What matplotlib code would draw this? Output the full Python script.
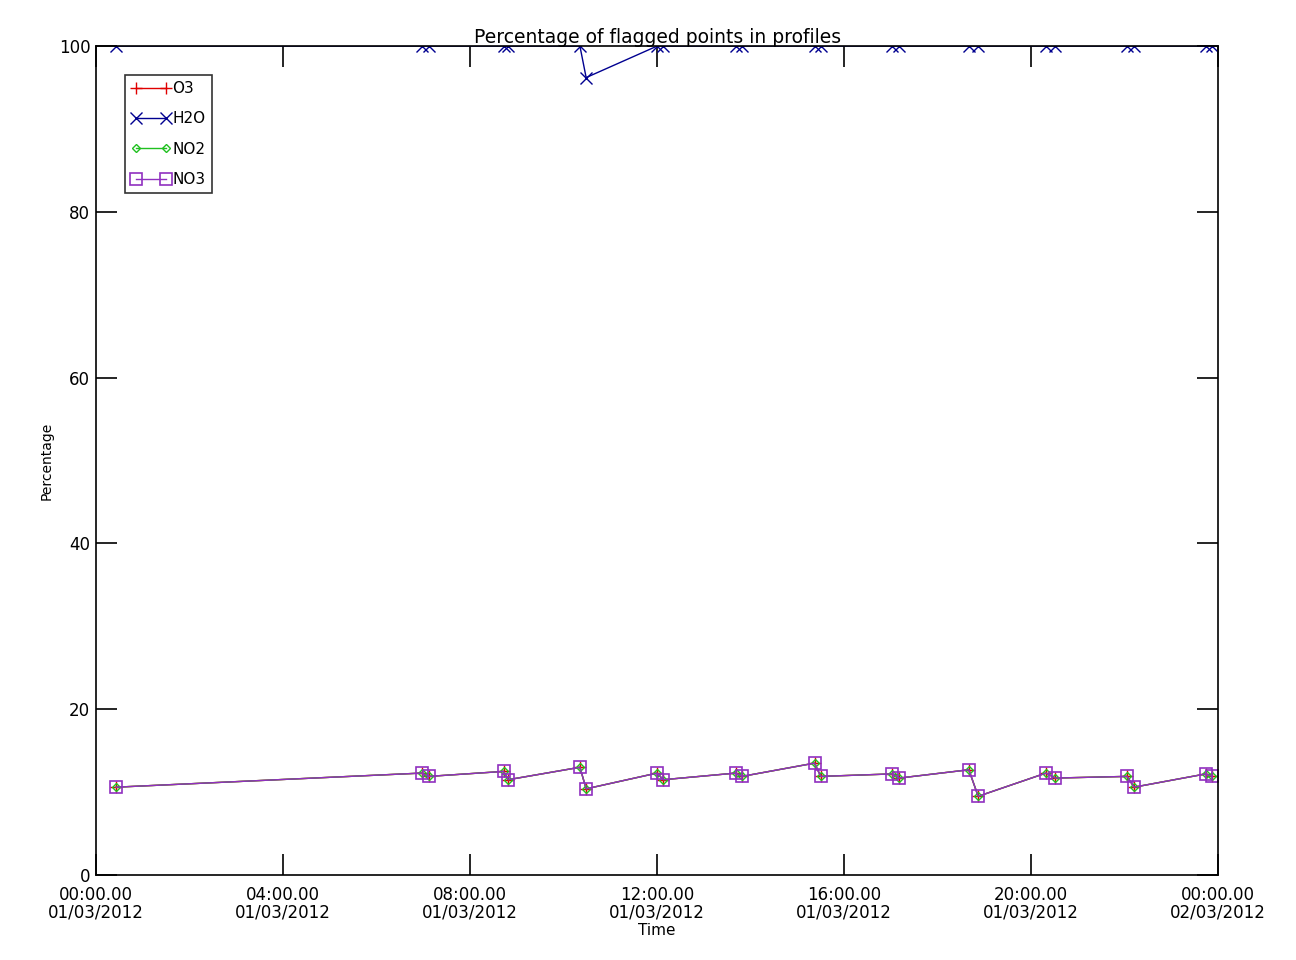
import numpy as np
import pandas as pd
import matplotlib
matplotlib.use("Agg")
import matplotlib.pyplot as plt
import matplotlib.dates as mdates

# profile times (01/03/2012) and percentage of flagged points
times = ["00:26", "06:58", "07:07", "08:43", "08:49", "10:21", "10:29",
         "12:00", "12:08", "13:41", "13:49", "15:22", "15:30", "17:02",
         "17:11", "18:40", "18:52", "20:19", "20:31", "22:03", "22:12",
         "23:44", "23:52"]
o3 = [10.6, 12.3, 11.9, 12.5, 11.5, 13.0, 10.4, 12.3, 11.5, 12.3, 11.9,
      13.5, 11.9, 12.2, 11.7, 12.7, 9.5, 12.3, 11.7, 11.9, 10.6, 12.2, 11.9]
h2o = [100, 100, 100, 100, 100, 100, 96.2, 100, 100, 100, 100, 100, 100,
       100, 100, 100, 100, 100, 100, 100, 100, 100, 100]
no2 = list(o3)
no3 = list(o3)

t = pd.to_datetime(["2012-03-01 " + s for s in times])

fig = plt.figure(figsize=(12.96, 9.6), dpi=100)
ax = fig.add_axes([0.074, 0.0885, 0.866, 0.8635])

ax.plot(t, o3, color="#e00000", marker="+", ms=8, mew=1, lw=1, label="O3")
ax.plot(t, h2o, color="#000090", marker="x", ms=8, mew=1, lw=1, label="H2O")
ax.plot(t, no2, color="#20c020", marker="D", ms=4, mfc="none", mew=1, lw=1, label="NO2")
ax.plot(t, no3, color="#9030c0", marker="s", ms=8, mfc="none", mew=1.2, lw=1, label="NO3")

ax.set_xlim(pd.Timestamp("2012-03-01 00:00"), pd.Timestamp("2012-03-02 00:00"))
ax.set_ylim(0, 100)
ax.xaxis.set_major_locator(mdates.HourLocator(byhour=[0, 4, 8, 12, 16, 20]))
ax.xaxis.set_major_formatter(mdates.DateFormatter("%H:%M.%S\n%d/%m/%Y"))
ax.set_yticks([0, 20, 40, 60, 80, 100])
ax.tick_params(direction="in", length=15, width=1.2, top=True, right=True,
               labelsize=12)
ax.tick_params(axis="x", pad=8)
ax.tick_params(axis="y", pad=4)
for lab in ax.get_xticklabels():
    lab.set_linespacing(0.95)
for s in ax.spines.values():
    s.set_linewidth(1.2)

ax.set_title("Percentage of flagged points in profiles", fontsize=13.5, pad=2)
ax.set_xlabel("Time", fontsize=11, labelpad=1)
ax.set_ylabel("Percentage", fontsize=10)

leg = ax.legend(loc="upper left", bbox_to_anchor=(0.026, 0.965), handlelength=2.6,
                numpoints=2, handletextpad=0.1, fontsize=11, frameon=True,
                fancybox=False, borderpad=0.4, labelspacing=1.0, borderaxespad=0)
leg.get_frame().set_edgecolor("black")
leg.get_frame().set_linewidth(1.2)

fig.savefig("out.png", dpi=100)
